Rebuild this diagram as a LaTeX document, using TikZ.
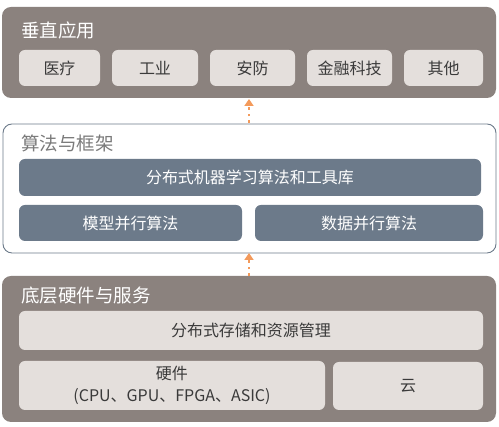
\documentclass[tikz,border=0pt]{standalone}
\usepackage{fontspec}
\setmainfont{Noto Sans CJK SC}
\usetikzlibrary{arrows.meta}
\definecolor{panelgray}{HTML}{8B827E}
\definecolor{lightbox}{HTML}{E4DFDC}
\definecolor{slate}{HTML}{6C7A8A}
\definecolor{arroworange}{HTML}{F39A5B}
\definecolor{darktext}{HTML}{3A3A3A}
\definecolor{titlegray}{HTML}{7A7A7A}
\tikzset{
  panel/.style={rounded corners=9pt, fill=panelgray, draw=none},
  whitepanel/.style={rounded corners=9pt, fill=white, draw=slate, line width=0.9pt},
  lbox/.style={rounded corners=6pt, fill=lightbox, draw=none},
  sbox/.style={rounded corners=6pt, fill=slate, draw=none},
  ltext/.style={text=darktext, font=\fontsize{16}{22}\selectfont},
  stext/.style={text=white, font=\fontsize{16}{22}\selectfont},
  ptitle/.style={anchor=west, inner sep=0pt, font=\fontsize{18.5}{20}\selectfont},
  flow/.style={arroworange, line width=2.2pt, dash pattern=on 2.5pt off 4pt, -{Triangle[length=7pt,width=9pt]}},
}
\begin{document}
\begin{tikzpicture}[x=1pt,y=1pt]
\useasboundingbox (0,0) rectangle (499,427);
% top panel
\path[panel] (2,427-7) rectangle (496,427-98);
\node[ptitle, text=white] (t1) at (21,427-30) {垂直应用};
\path[lbox] (19,427-50) rectangle (100,427-86);
\node[ltext] (a1) at (59.5,427-68) {医疗};
\path[lbox] (112,427-50) rectangle (198,427-86);
\node[ltext] (a2) at (155,427-68) {工业};
\path[lbox] (210,427-50) rectangle (295,427-86);
\node[ltext] (a3) at (252.5,427-68) {安防};
\path[lbox] (307,427-50) rectangle (392,427-86);
\node[ltext] (a4) at (349.5,427-68) {金融科技};
\path[lbox] (404,427-50) rectangle (483,427-86);
\node[ltext] (a5) at (443.5,427-68) {其他};
\coordinate (toppanel) at (249,427-99);
% middle panel
\path[whitepanel] (3,427-124) rectangle (496,427-253);
\node[ptitle, text=titlegray] (t2) at (21,427-143) {算法与框架};
\path[sbox] (19,427-159) rectangle (481,427-196);
\node[stext] (b1) at (250,427-177.5) {分布式机器学习算法和工具库};
\path[sbox] (19,427-205) rectangle (242,427-241);
\node[stext] (b2) at (130.5,427-223) {模型并行算法};
\path[sbox] (255,427-205) rectangle (483,427-241);
\node[stext] (b3) at (369,427-223) {数据并行算法};
\coordinate (midtop) at (249,427-123);
\coordinate (midbot) at (249,427-253);
% bottom panel
\path[panel] (2,427-276) rectangle (496,427-422);
\node[ptitle, text=white] (t3) at (21,427-296) {底层硬件与服务};
\path[lbox] (19,427-311) rectangle (483,427-350);
\node[ltext] (c1) at (251,427-330.5) {分布式存储和资源管理};
\path[lbox] (19,427-361) rectangle (325,427-410);
\node[ltext, align=center] (c2) at (172,427-385.5) {硬件\\(CPU、GPU、FPGA、ASIC)};
\path[lbox] (333,427-362) rectangle (483,427-410);
\node[ltext] (c3) at (408,427-386) {云};
\coordinate (bottop) at (249,427-276);
% arrows
\draw[flow] (midtop) -- (toppanel);
\draw[flow] (bottop) -- (midbot);
\end{tikzpicture}
\end{document}
